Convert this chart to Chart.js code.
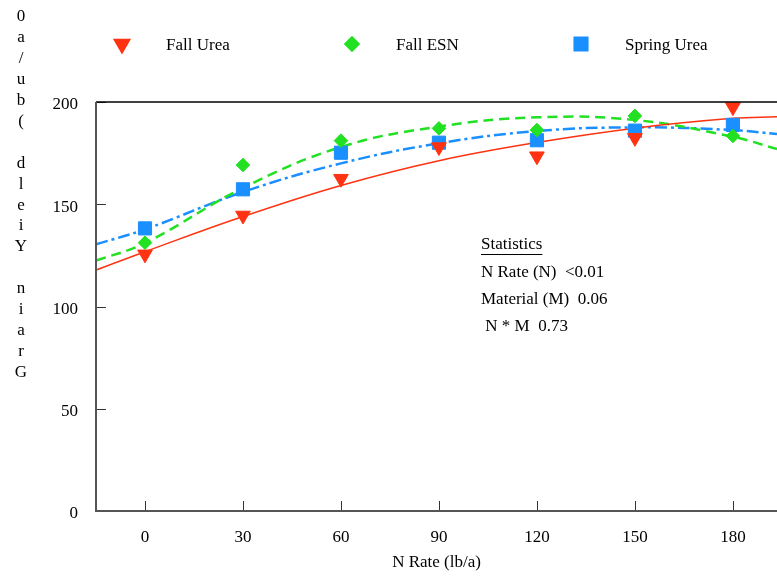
<!DOCTYPE html>
<html>
<head>
<meta charset="utf-8">
<script src="https://cdn.jsdelivr.net/npm/chart.js@4"></script>
<style>
  html, body { margin: 0; padding: 0; background: #fff; overflow: hidden; }
  canvas { display: block; }
</style>
</head>
<body>
<canvas id="chartYield" width="777" height="576"></canvas>
<script>
/* data */
const rates = [0, 30, 60, 90, 120, 150, 180];
const xTicks = [0, 30, 60, 90, 120, 150, 180];
const yTicks = [0, 50, 100, 150, 200];
const fallUrea = [125.5, 144.5, 162.5, 178, 173.5, 182.5, 197.5];
const fallESN = [131.2, 169.2, 181.1, 187.1, 186.3, 193.2, 183.4];
const springUrea = [138.2, 157.3, 175.2, 180.1, 181.3, 186, 188.8];

/* fitted curves */
const fitX = [-15, 0, 30, 60, 90, 120, 150, 180, 193.5];
const fitUrea = [117.8, 126.8, 144, 159.2, 171.3, 180.2, 187.2, 192, 192.8];
const fitESN = [122.4, 131, 158, 178, 188, 192.5, 191.2, 183, 177];
const fitSpring = [130.4, 137.7, 156, 170, 179.8, 185.8, 187.6, 186.3, 184.3];

const seriesNames = ['Fall Urea', 'Fall ESN', 'Spring Urea'];
const yTitle = 'Grain Yield (bu/a0';
const statsTitle = 'Statistics';
const statsLines = ['N Rate (N)  <0.01', 'Material (M)  0.06', ' N * M  0.73'];

const RED = '#ff3311';
const GREEN = '#22e022';
const BLUE = '#1a8fff';
const FONT = "'Liberation Serif', 'Times New Roman', serif";

const pts = (xs, ys) => xs.map((x, i) => ({ x: x, y: ys[i] }));

const markers = [
    { pointStyle: 'triangle', radius: 8.5, rotation: 180, color: RED },
    { pointStyle: 'rectRot', radius: 6.8, rotation: 0, color: GREEN },
    { pointStyle: 'rect', radius: 9.3, rotation: 0, color: BLUE }
];

/* frame, inward ticks, stacked y title, legend and statistics box */
const decor = {
    id: 'decor',
    afterDraw(chart) {
        const ctx = chart.ctx;
        const a = chart.chartArea;
        const xs = chart.scales.x;
        const ys = chart.scales.y;
        ctx.save();

        // inward tick marks
        ctx.strokeStyle = '#333';
        ctx.lineWidth = 1;
        xTicks.forEach(v => {
            const px = Math.round(xs.getPixelForValue(v)) + 0.5;
            ctx.beginPath();
            ctx.moveTo(px, a.bottom);
            ctx.lineTo(px, a.bottom - 10);
            ctx.stroke();
        });
        yTicks.forEach(v => {
            const py = Math.round(ys.getPixelForValue(v)) + 0.5;
            ctx.beginPath();
            ctx.moveTo(a.left, py);
            ctx.lineTo(a.left + 10, py);
            ctx.stroke();
        });

        // frame
        ctx.strokeStyle = '#000';
        ctx.lineWidth = 1.5;
        ctx.beginPath();
        ctx.moveTo(a.left, a.top);
        ctx.lineTo(a.right, a.top);
        ctx.stroke();
        ctx.strokeStyle = '#555';
        ctx.lineWidth = 2;
        ctx.beginPath();
        ctx.moveTo(a.left, a.top);
        ctx.lineTo(a.left, a.bottom);
        ctx.lineTo(a.right, a.bottom);
        ctx.stroke();

        // y title, letters stacked from the top
        ctx.fillStyle = '#000';
        ctx.font = '17px ' + FONT;
        ctx.textAlign = 'center';
        ctx.textBaseline = 'middle';
        const chars = yTitle.split('').reverse();
        chars.forEach((c, i) => {
            ctx.fillText(c, 21, 17 + i * 20.9);
        });

        // legend
        const legX = [122, 352, 581];
        ctx.textAlign = 'left';
        markers.forEach((m, i) => {
            ctx.fillStyle = m.color;
            ctx.strokeStyle = m.color;
            Chart.helpers.drawPoint(ctx, { pointStyle: m.pointStyle, radius: m.radius, rotation: m.rotation, borderWidth: 1 }, legX[i], 44);
            ctx.fillStyle = '#000';
            ctx.fillText(seriesNames[i], legX[i] + 44, 46);
        });

        // statistics
        ctx.fillStyle = '#000';
        ctx.fillText(statsTitle, 481, 245);
        const w = ctx.measureText(statsTitle).width;
        ctx.strokeStyle = '#000';
        ctx.lineWidth = 1;
        ctx.beginPath();
        ctx.moveTo(481, 254.5);
        ctx.lineTo(481 + w, 254.5);
        ctx.stroke();
        statsLines.forEach((t, i) => {
            ctx.fillText(t, 481, 273 + i * 27);
        });
        ctx.restore();
    }
};

const fitLine = (ys, color, dash, width) => ({
    type: 'line',
    data: pts(fitX, ys),
    borderColor: color,
    borderWidth: width,
    borderDash: dash,
    pointRadius: 0,
    tension: 0.4,
    fill: false,
    order: 2
});

const dots = (ys, m) => ({
    type: 'scatter',
    data: pts(rates, ys),
    pointStyle: m.pointStyle,
    pointRadius: m.radius,
    pointRotation: m.rotation,
    backgroundColor: m.color,
    borderColor: m.color,
    borderWidth: 1,
    order: 1
});

new Chart(document.getElementById('chartYield'), {
    type: 'scatter',
    data: {
        datasets: [
            fitLine(fitUrea, RED, [], 1.5),
            fitLine(fitESN, GREEN, [10, 6], 2.5),
            fitLine(fitSpring, BLUE, [12, 4, 3, 4], 2.5),
            dots(fallUrea, markers[0]),
            dots(fallESN, markers[1]),
            dots(springUrea, markers[2])
        ]
    },
    options: {
        responsive: false,
        animation: false,
        layout: { autoPadding: false, padding: { top: 102, right: 0, left: 0, bottom: 0 } },
        plugins: {
            legend: { display: false },
            tooltip: { enabled: false }
        },
        scales: {
            x: {
                type: 'linear',
                min: -15,
                max: 193.5,
                afterBuildTicks: s => { s.ticks = xTicks.map(v => ({ value: v })); },
                afterFit: s => { s.height = 65; s.paddingRight = 0; s.paddingLeft = 0; },
                grid: { display: false, drawTicks: false },
                border: { display: false },
                ticks: {
                    color: '#000',
                    padding: 16,
                    font: { family: FONT, size: 17 }
                },
                title: {
                    display: true,
                    text: 'N Rate (lb/a)',
                    color: '#000',
                    padding: { top: 0, bottom: 3 },
                    font: { family: FONT, size: 17 }
                }
            },
            y: {
                min: 0,
                max: 200,
                afterBuildTicks: s => { s.ticks = yTicks.map(v => ({ value: v })); },
                afterFit: s => { s.width = 96; s.paddingTop = 0; s.paddingBottom = 0; },
                grid: { display: false, drawTicks: false },
                border: { display: false },
                ticks: {
                    color: '#000',
                    padding: 18,
                    labelOffset: 3,
                    font: { family: FONT, size: 17 }
                }
            }
        }
    },
    plugins: [decor]
});
</script>
</body>
</html>
